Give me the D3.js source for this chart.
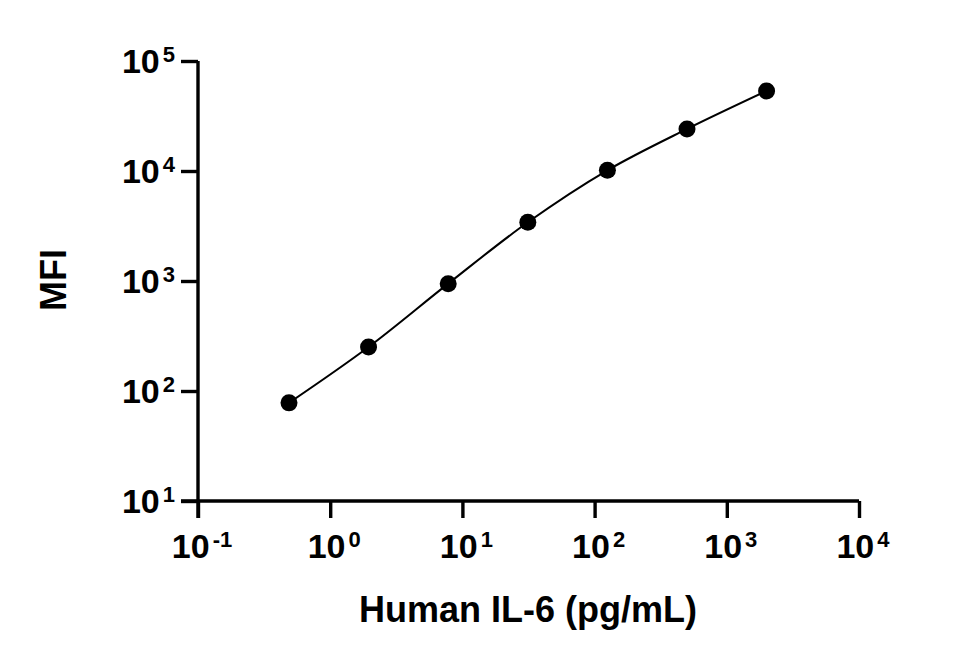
<!DOCTYPE html>
<html>
  <head>
    <meta charset="utf-8">
    <script src="https://d3js.org/d3.v7.min.js"></script>
    <style>
      body { margin: 0px; background: #fff; }
      text { font-family: 'Liberation Sans', Arial, sans-serif; font-weight: bold; fill: #000; }
      .tick-label { font-size: 34px; }
      .tick-label tspan.sup { font-size: 22px; }
      .axis-title { font-size: 36px; }
    </style>
  </head>
  <body>
    <svg width="963" height="660"></svg>
    <script>
      // standard concentrations (pg/mL) and MFI
      var concentration = [0.488, 1.95, 7.81, 31.25, 125, 500, 2000];
      var mfi = [78, 251, 946, 3420, 10150, 24100, 53400];
      var xTickExponents = [-1, 0, 1, 2, 3, 4];
      var yTickExponents = [1, 2, 3, 4, 5];
      var xTitle = 'Human IL-6 (pg/mL)';
      var yTitle = 'MFI';

      var svg = d3.select('svg');
      var plotLeft = 198, plotRight = 859, plotTop = 61, plotBottom = 501;
      var tickLen = 17;

      var xScale = d3.scaleLog().domain([1e-1, 1e4]).range([plotLeft, plotRight]);
      var yScale = d3.scaleLog().domain([1e1, 1e5]).range([plotBottom, plotTop]);

      var data = concentration.map(function (c, i) { return { x: c, y: mfi[i] }; });

      // axes
      var xAxis = d3.axisBottom(xScale)
        .tickValues(xTickExponents.map(function (e) { return Math.pow(10, e); }))
        .tickSize(tickLen)
        .tickFormat('');
      var yAxis = d3.axisLeft(yScale)
        .tickValues(yTickExponents.map(function (e) { return Math.pow(10, e); }))
        .tickSize(tickLen)
        .tickFormat('');

      var xAxisG = svg.append('g')
          .attr('transform', 'translate(0,' + plotBottom + ')')
          .call(xAxis);
      var yAxisG = svg.append('g')
          .attr('transform', 'translate(' + plotLeft + ',0)')
          .call(yAxis);
      [xAxisG, yAxisG].forEach(function (g) {
        g.select('.domain').attr('stroke', '#000').attr('stroke-width', 3.4);
        g.selectAll('.tick line').attr('stroke', '#000').attr('stroke-width', 3.4);
      });
      xAxisG.select('.domain').attr('d', 'M' + (plotLeft - tickLen) + ',0H' + plotRight);
      yAxisG.select('.domain').attr('d', 'M0,' + (plotBottom + tickLen) + 'V' + plotTop);

      // tick labels as 10 with superscript exponent
      function powerLabel(sel) {
        sel.append('tspan').text('10');
        sel.append('tspan')
            .attr('class', 'sup')
            .attr('dx', 3)
            .attr('dy', -11)
            .text(function (e) { return e < 0 ? '-' + Math.abs(e) : e; });
      }

      svg.append('g').selectAll('text')
        .data(xTickExponents)
        .enter().append('text')
          .attr('class', 'tick-label')
          .attr('text-anchor', 'middle')
          .attr('x', function (e) { return xScale(Math.pow(10, e)) + 4; })
          .attr('y', 558)
          .call(powerLabel);

      svg.append('g').selectAll('text')
        .data(yTickExponents)
        .enter().append('text')
          .attr('class', 'tick-label')
          .attr('text-anchor', 'end')
          .attr('x', plotLeft - tickLen - 6)
          .attr('y', function (e) { return yScale(Math.pow(10, e)) + 12; })
          .call(powerLabel);

      // fitted curve through the standards
      var line = d3.line()
        .x(function (d) { return xScale(d.x); })
        .y(function (d) { return yScale(d.y); })
        .curve(d3.curveCatmullRom);

      svg.append('path')
        .datum(data)
        .attr('fill', 'none')
        .attr('stroke', '#000')
        .attr('stroke-width', 2)
        .attr('d', line);

      svg.append('g').selectAll('circle')
        .data(data)
        .enter().append('circle')
          .attr('cx', function (d) { return xScale(d.x); })
          .attr('cy', function (d) { return yScale(d.y); })
          .attr('r', 8.5)
          .attr('fill', '#000');

      // axis titles
      svg.append('text')
          .attr('class', 'axis-title')
          .attr('text-anchor', 'middle')
          .attr('x', 528)
          .attr('y', 622)
          .text(xTitle);

      svg.append('text')
          .attr('class', 'axis-title')
          .attr('text-anchor', 'middle')
          .attr('transform', 'translate(66,280) rotate(-90)')
          .text(yTitle);
    </script>
  </body>
</html>
